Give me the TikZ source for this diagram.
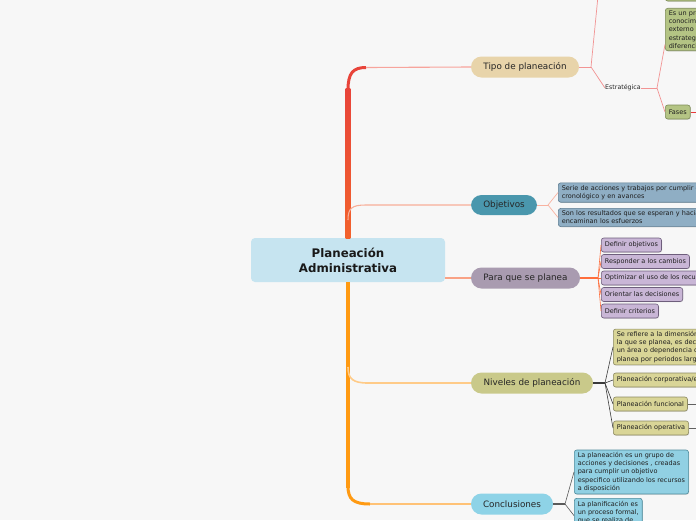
\documentclass[tikz,border=0pt]{standalone}
\usepackage{fontspec}
\setmainfont{DejaVu Sans}
\usetikzlibrary{shadows}
\definecolor{bg}{HTML}{F7F7F7}
\definecolor{rootfill}{HTML}{C6E4F0}
\definecolor{tipofill}{HTML}{E8D4AA}
\definecolor{objfill}{HTML}{4A97AD}
\definecolor{parafill}{HTML}{A99BB0}
\definecolor{nivfill}{HTML}{C9C98A}
\definecolor{confill}{HTML}{8ED3E7}
\definecolor{trunkred}{HTML}{E8443A}
\definecolor{trunkmid}{HTML}{F2622C}
\definecolor{trunkorange}{HTML}{FF9A12}
\definecolor{tipoline}{HTML}{F7A49C}
\definecolor{objline}{HTML}{F7AE98}
\definecolor{paraline}{HTML}{F9A285}
\definecolor{nivline}{HTML}{FFCB88}
\definecolor{conline}{HTML}{FFC276}
\definecolor{tsubline}{HTML}{F29494}
\definecolor{osubline}{HTML}{F8B2A0}
\definecolor{psubline}{HTML}{FF6E3C}
\definecolor{nsubline}{HTML}{3A3A3A}
\definecolor{csubline}{HTML}{5A5A5A}
\definecolor{greenfill}{HTML}{B4C484}
\definecolor{greendraw}{HTML}{7E8C58}
\definecolor{bluefill}{HTML}{8FAEC4}
\definecolor{bluedraw}{HTML}{5E7D92}
\definecolor{lavfill}{HTML}{C9B6D6}
\definecolor{lavdraw}{HTML}{6E5E7C}
\definecolor{khakifill}{HTML}{D9D597}
\definecolor{khakidraw}{HTML}{8C8962}
\definecolor{cyanfill}{HTML}{91D0E3}
\definecolor{cyandraw}{HTML}{4D8B9C}
\definecolor{fasesline}{HTML}{E83A3A}
\begin{document}
\begin{tikzpicture}[x=1pt,y=-1pt,
  every node/.style={inner sep=0pt},
  branch/.style={rounded corners=10.5pt, minimum height=21pt, font=\fontsize{8.8}{10}\selectfont, text=black!85},
  leaf/.style={draw, rounded corners=2.5pt, line width=0.6pt, inner xsep=3.5pt, inner ysep=2.5pt, anchor=west,
    font=\fontsize{6.5}{8.1}\selectfont, text=black!88, align=left,
    drop shadow={shadow xshift=0.5pt,shadow yshift=-0.7pt,opacity=0.3}},
  oneline/.style={leaf, minimum height=14pt, inner ysep=0pt},
  greenleaf/.style={fill=greenfill, draw=greendraw},
  blueleaf/.style={fill=bluefill, draw=bluedraw},
  lavleaf/.style={fill=lavfill, draw=lavdraw},
  khakileaf/.style={fill=khakifill, draw=khakidraw},
  cyanleaf/.style={fill=cyanfill, draw=cyandraw},
]
\useasboundingbox (0,0) rectangle (696,520);
\fill[bg] (0,0) rectangle (696,520);
\clip (0,0) rectangle (696,520);

% ---------- main nodes ----------
\node[fill=rootfill, rounded corners=4pt, minimum width=194pt, minimum height=44pt, align=center,
  font=\bfseries\fontsize{11.8}{15}\selectfont, text=black!90] (root) at (348,260) {Planeación\\Administrativa};
\node[branch, fill=tipofill, minimum width=108pt] (tipo) at (525,67) {Tipo de planeación};
\node[branch, fill=objfill, minimum width=66pt, minimum height=20pt] (obj) at (504,205) {Objetivos};
\node[branch, fill=parafill, minimum width=109pt] (para) at (525.5,278) {Para que se planea};
\node[branch, fill=nivfill, minimum width=122pt] (niv) at (532,383) {Niveles de planeación};
\node[branch, fill=confill, minimum width=82pt] (con) at (512,504) {Conclusiones};

% ---------- trunk ----------
\coordinate (tipoE) at (366,67.5);
\coordinate (objE) at (366,205);
\coordinate (nivE) at (368,383);
\coordinate (conE) at (370,504);
\shade[top color=trunkred, bottom color=trunkmid] (345.7,88) rectangle (350.3,238);
\draw[trunkred, line width=3pt] (348,90) .. controls (348,73) and (353,67.5) .. (tipoE);
\draw[tipoline, line width=1.1pt] (tipoE) -- (tipo.west);
\draw[objline, line width=1.1pt] (348,220) .. controls (348,208) and (352,205) .. (objE) -- (obj.west);
\draw[paraline, line width=1.1pt] (root.east |- para.west) -- (para.west);
\draw[trunkorange, line width=4.6pt] (root.south) -- (348,488);
\draw[nivline, line width=1.6pt] (348,367) .. controls (348,379) and (353,383) .. (nivE);
\draw[nivline, line width=1.1pt] (nivE) -- (niv.west);
\draw[trunkorange, line width=3pt] (348,486) .. controls (348,499) and (353,504) .. (conE);
\draw[conline, line width=1.1pt] (conE) -- (con.west);

% ---------- Tipo de planeacion ----------
\coordinate (tf) at (591,67);
\coordinate (tup) at (598,-4);
\node[font=\fontsize{6.3}{7}\selectfont, text=black!85] (estr) at (623,88) {Estratégica};
\coordinate (ef) at (657,88);
\node[leaf, greenleaf, minimum width=100pt, minimum height=30pt] (topbox) at (665,-14) {};
\node[leaf, greenleaf, text width=200pt] (esbox) at (665,29.5) {Es un proceso basado en el\\conocimiento del entorno interno y\\externo de la organización, define\\estrategias para alcanzar ventajas\\diferenciales};
\node[oneline, greenleaf] (fases) at (665,112) {Fases};
\coordinate (fasesR) at (700,112);
\draw[tsubline, line width=0.9pt] (tipo.east) -- (tf);
\draw[tsubline, line width=0.7pt] (tf) -- (tup);
\draw[tsubline, line width=0.7pt] (tf) -- (estr.west);
\draw[tsubline, line width=0.9pt] (estr.east) -- (ef);
\draw[tsubline, line width=0.7pt] (ef) -- ([yshift=-15pt]esbox.west);
\draw[tsubline, line width=0.7pt] (ef) -- (fases.west);
\draw[fasesline, line width=0.9pt] (fases.east) -- (fasesR);

% ---------- Objetivos ----------
\coordinate (of) at (548,205);
\node[leaf, blueleaf, text width=200pt] (ob1) at (558,192.5) {Serie de acciones y trabajos por cumplir en orden\\cronológico y en avances};
\node[leaf, blueleaf, text width=200pt] (ob2) at (558,217.5) {Son los resultados que se esperan y hacia los cuales se\\encaminan los esfuerzos};
\draw[osubline, line width=1pt] (obj.east) -- (of);
\draw[osubline, line width=0.7pt] (of) -- (ob1.west);
\draw[osubline, line width=0.7pt] (of) -- (ob2.west);

% ---------- Para que se planea ----------
\coordinate (pf) at (598,278);
\node[oneline, lavleaf] (p1) at (601,245) {Definir objetivos};
\node[oneline, lavleaf] (p2) at (601,261.5) {Responder a los cambios};
\node[oneline, lavleaf] (p3) at (601,278) {Optimizar el uso de los recursos};
\node[oneline, lavleaf] (p4) at (601,294.5) {Orientar las decisiones};
\node[oneline, lavleaf] (p5) at (601,311) {Definir criterios};
\draw[psubline, line width=1.2pt] (para.east) -- (pf);
\foreach \n in {p1,p2,p3,p4,p5} \draw[psubline, line width=0.6pt] (pf) -- (\n.west);

% ---------- Niveles de planeacion ----------
\coordinate (nf) at (605,383);
\node[leaf, khakileaf, text width=200pt] (n1) at (613,347) {Se refiere a la dimensión de la organización para\\la que se planea, es decir, si es toda la empresa,\\un área o dependencia o una actividad; y si se\\planea por periodos largos o cortos};
\node[oneline, khakileaf] (n2) at (613,380) {Planeación corporativa/estratégica};
\node[oneline, khakileaf] (n3) at (613,404) {Planeación funcional};
\node[oneline, khakileaf] (n4) at (613,428) {Planeación operativa};
\coordinate (n3R) at (700,404);
\coordinate (n4R) at (700,428);
\draw[nsubline, line width=1.4pt] (niv.east) -- (nf);
\foreach \n in {n1,n2,n3,n4} \draw[nsubline, line width=0.6pt] (nf) -- (\n.west);
\draw[nsubline!80, line width=0.6pt] (n3.east) -- (n3R);
\draw[nsubline!80, line width=0.6pt] (n4.east) -- (n4R);

% ---------- Conclusiones ----------
\coordinate (cf) at (565,504);
\node[leaf, cyanleaf] (c1) at (574,472) {La planeación es un grupo de\\acciones y decisiones , creadas\\para cumplir un objetivo\\especifico utilizando los recursos\\a disposición};
\node[leaf, cyanleaf, anchor=north west] (c2) at (574,498) {La planificación es\\un proceso formal,\\que se realiza de\\manera ordenada};
\draw[csubline, line width=1.4pt] (con.east) -- (cf);
\draw[csubline, line width=0.6pt] (cf) -- (c1.west);
\draw[csubline, line width=0.6pt] (cf) -- (c2.west);
\end{tikzpicture}
\end{document}
